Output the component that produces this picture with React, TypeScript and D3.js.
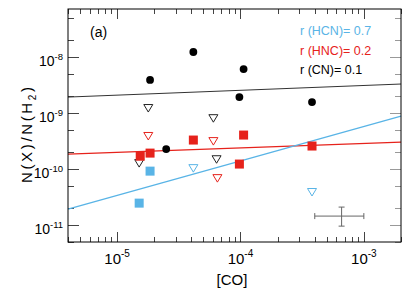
import React from "react";
import * as d3 from "d3";

// [CO] abundance vs N(X)/N(H2)
const cnPoints = [
  [1.85e-5, 3.9e-9],
  [4.15e-5, 1.23e-8],
  [1.06e-4, 6.1e-9],
  [9.8e-5, 1.93e-9],
  [3.8e-4, 1.57e-9],
  [2.5e-5, 2.28e-10],
];
const cnLimits = [
  [1.79e-5, 1.23e-9],
  [6.03e-5, 8.1e-10],
  [6.4e-5, 1.5e-10],
  [1.51e-5, 1.28e-10],
];
const hncPoints = [
  [1.54e-5, 1.7e-10],
  [1.85e-5, 1.93e-10],
  [4.15e-5, 3.3e-10],
  [1.06e-4, 4.05e-10],
  [9.8e-5, 1.23e-10],
  [3.8e-4, 2.58e-10],
];
const hncLimits = [
  [1.79e-5, 3.9e-10],
  [6.03e-5, 3.16e-10],
  [6.5e-5, 6.9e-11],
];
const hcnPoints = [
  [1.85e-5, 9.2e-11],
  [1.51e-5, 2.47e-11],
];
const hcnLimits = [
  [4.15e-5, 1.04e-10],
  [3.8e-4, 3.9e-11],
];

// fitted lines (end points at the axis edges)
const cnFit = [[4e-6, 1.93e-9], [2e-3, 3.3e-9]];
const hncFit = [[4e-6, 1.85e-10], [2e-3, 3.03e-10]];
const hcnFit = [[4e-6, 1.93e-11], [2e-3, 8.8e-10]];

// typical error bar
const errCenter = [6.6e-4, 1.45e-11];
const errX = [4.0e-4, 1.0e-3];
const errY = [9.6e-12, 2.1e-11];

const legendLabels = ["r (HCN)= 0.7", "r (HNC)= 0.2", "r (CN)= 0.1"];
const xMajors = [-5, -4, -3];
const yMajors = [-8, -9, -10, -11];

const BLUE = "#59b4e6";
const RED = "#e6221b";
const FONT = "'Liberation Sans', Arial, Helvetica, sans-serif";

export default function App() {
  const width = 415;
  const height = 291;
  const left = 68, right = 401, top = 9, bottom = 242;

  const x = d3.scaleLog().domain([4e-6, 2e-3]).range([left, right]);
  const y = d3.scaleLog().domain([5e-12, 7.2e-8]).range([bottom, top]);

  const xTicks: { v: number; major: boolean }[] = [];
  d3.range(-6, -2).forEach((e) => {
    d3.range(1, 10).forEach((m) => {
      const v = m * Math.pow(10, e);
      if (v >= 4e-6 && v <= 2e-3) xTicks.push({ v, major: m === 1 });
    });
  });
  const yTicks: { v: number; major: boolean }[] = [];
  d3.range(-12, -6).forEach((e) => {
    [1, 2, 5].forEach((m) => {
      const v = m * Math.pow(10, e);
      if (v >= 5e-12 && v <= 7.2e-8) yTicks.push({ v, major: m === 1 });
    });
  });

  const line = d3
    .line<number[]>()
    .x((d) => x(d[0]))
    .y((d) => y(d[1]));

  const tri = (cx: number, cy: number) =>
    `M${cx - 4.5},${cy - 3.5}L${cx + 4.5},${cy - 3.5}L${cx},${cy + 4}Z`;

  return (
    <svg
      width={width}
      height={height}
      style={{ position: "absolute", left: 0, top: 0, background: "#fff" }}
      fontFamily={FONT}
    >
      {/* ticks */}
      <g stroke="#444" strokeWidth={1}>
        {xTicks.map((t, i) => {
          const len = t.major ? 10 : 5;
          const px = Math.round(x(t.v)) + 0.5;
          return (
            <g key={"xt" + i}>
              <line x1={px} x2={px} y1={bottom} y2={bottom - len} />
              <line x1={px} x2={px} y1={top} y2={top + len} />
            </g>
          );
        })}
        {yTicks.map((t, i) => {
          const len = t.major ? 11 : 6;
          const py = Math.round(y(t.v)) + 0.5;
          return (
            <g key={"yt" + i}>
              <line x1={left} x2={left + len} y1={py} y2={py} />
              <line x1={right} x2={right - len} y1={py} y2={py} stroke="#999" />
            </g>
          );
        })}
      </g>

      {/* fit lines */}
      <path d={line(cnFit) || ""} stroke="#333" strokeWidth={1} fill="none" />
      <path d={line(hncFit) || ""} stroke={RED} strokeWidth={1.2} fill="none" />
      <path d={line(hcnFit) || ""} stroke={BLUE} strokeWidth={1.3} fill="none" />

      {/* error bar */}
      <g stroke="#666" strokeWidth={1}>
        <line x1={x(errX[0])} x2={x(errX[1])} y1={y(errCenter[1])} y2={y(errCenter[1])} />
        <line x1={x(errX[0])} x2={x(errX[0])} y1={y(errCenter[1]) - 3} y2={y(errCenter[1]) + 3} />
        <line x1={x(errX[1])} x2={x(errX[1])} y1={y(errCenter[1]) - 3} y2={y(errCenter[1]) + 3} />
        <line x1={x(errCenter[0])} x2={x(errCenter[0])} y1={y(errY[0])} y2={y(errY[1])} />
        <line x1={x(errCenter[0]) - 3} x2={x(errCenter[0]) + 3} y1={y(errY[0])} y2={y(errY[0])} />
        <line x1={x(errCenter[0]) - 3} x2={x(errCenter[0]) + 3} y1={y(errY[1])} y2={y(errY[1])} />
      </g>

      {/* upper limits */}
      {cnLimits.map((d, i) => (
        <path key={"cl" + i} d={tri(x(d[0]), y(d[1]))} fill="none" stroke="#222" strokeWidth={1} />
      ))}
      {hncLimits.map((d, i) => (
        <path key={"hl" + i} d={tri(x(d[0]), y(d[1]))} fill="none" stroke={RED} strokeWidth={1} />
      ))}
      {hcnLimits.map((d, i) => (
        <path key={"bl" + i} d={tri(x(d[0]), y(d[1]))} fill="none" stroke={BLUE} strokeWidth={1} />
      ))}

      {/* detections */}
      {hcnPoints.map((d, i) => (
        <rect key={"b" + i} x={x(d[0]) - 4.5} y={y(d[1]) - 4.5} width={9} height={9} fill={BLUE} />
      ))}
      {hncPoints.map((d, i) => (
        <rect key={"r" + i} x={x(d[0]) - 4.5} y={y(d[1]) - 4.5} width={9} height={9} fill={RED} />
      ))}
      {cnPoints.map((d, i) => (
        <circle key={"c" + i} cx={x(d[0])} cy={y(d[1])} r={3.9} fill="#000" />
      ))}

      {/* frame */}
      <rect x={left} y={top} width={right - left} height={bottom - top} fill="none" stroke="#000" strokeWidth={1} />

      {/* tick labels */}
      {xMajors.map((e) => (
        <text key={"xl" + e} x={x(Math.pow(10, e))} y={264} fontSize={15} textAnchor="middle" fill="#000">
          10<tspan dy={-7} fontSize={10}>{e}</tspan>
        </text>
      ))}
      {yMajors.map((e) => (
        <text key={"yl" + e} x={63} y={y(Math.pow(10, e)) + 9} fontSize={14} textAnchor="end" fill="#000">
          10<tspan dy={-6} fontSize={9.5}>{e}</tspan>
        </text>
      ))}

      {/* axis titles */}
      <text x={232} y={285} fontSize={15} textAnchor="middle">[CO]</text>
      <text
        transform={`translate(32,${135}) rotate(-90)`}
        fontSize={15}
        textAnchor="middle"
        textLength={96}
        lengthAdjust="spacing"
      >
        N(X)/N(H<tspan dy={4} fontSize={10}>2</tspan><tspan dy={-4}>)</tspan>
      </text>

      <text x={90} y={37} fontSize={14}>(a)</text>

      {/* legend */}
      {legendLabels.map((s, i) => (
        <text key={s} x={300} y={35 + i * 19.5} fontSize={12.5} fill={[BLUE, RED, "#000"][i]}>
          {s}
        </text>
      ))}
    </svg>
  );
}
